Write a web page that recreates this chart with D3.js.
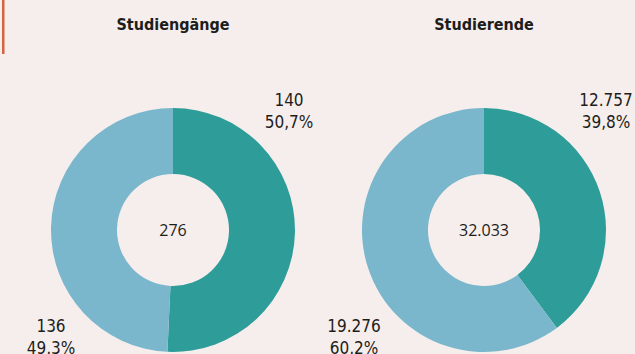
<!DOCTYPE html>
<html>
<head>
<meta charset="utf-8">
<script src="https://cdn.jsdelivr.net/npm/d3@7"></script>
<style>
  html, body { margin: 0; padding: 0; background: #f6eeec; }
  svg { display: block; }
</style>
</head>
<body>
<svg id="chart" width="635" height="354"></svg>
<script>
// Studiengänge und Studierende, Anteile je Gruppe
const titles = ["Studiengänge", "Studierende"];
const totals = ["276", "32.033"];
const groupA = [140, 12757];          // dunkle Segmente
const groupB = [136, 19276];          // helle Segmente
const labelsA = [["140", "50,7%"], ["12.757", "39,8%"]];
const labelsB = [["136", "49,3%"], ["19.276", "60,2%"]];

const W = 635, H = 354;
const svg = d3.select("#chart");
const colors = ["#2e9d99", "#7ab7cc"];
const narrow = "'Liberation Sans Narrow', 'DejaVu Sans Condensed', sans-serif";

// Akzentlinie links oben
svg.append("rect").attr("x", 2).attr("y", 0).attr("width", 2.5).attr("height", 54)
  .attr("fill", "#d4653f");

const cx = d3.scaleOrdinal().domain([0, 1]).range([173, 484]);
const cy = 230, rOuter = 122, rInner = 56;

const pie = d3.pie().sort(null).value(d => d);
const arc = d3.arc().innerRadius(rInner).outerRadius(rOuter);

// Positionen der Beschriftungen relativ zum Kreismittelpunkt
const labelPosA = [[116, 106], [122, 106]];
const labelPosB = [[-122, 332], [-130, 332]];

titles.forEach((t, i) => {
  const g = svg.append("g").attr("transform", `translate(${cx(i)},${cy})`);
  const arcs = pie([groupA[i], groupB[i]]);
  g.selectAll("path").data(arcs).join("path")
    .attr("d", arc)
    .attr("fill", (d, j) => colors[j]);

  g.append("text").attr("x", 0).attr("y", 6)
    .attr("text-anchor", "middle")
    .attr("font-family", "'Open Sans', sans-serif")
    .attr("font-size", 16).attr("fill", "#1d1d1b")
    .text(totals[i]);

  svg.append("text")
    .attr("x", cx(i)).attr("y", 30)
    .attr("text-anchor", "middle")
    .attr("font-family", narrow).attr("font-weight", "bold")
    .attr("font-size", 16).attr("fill", "#1d1d1b")
    .text(t);

  [[labelsA[i], labelPosA[i]], [labelsB[i], labelPosB[i]]].forEach(([lines, pos]) => {
    const tx = svg.append("text")
      .attr("text-anchor", "middle")
      .attr("font-family", narrow)
      .attr("font-size", 17).attr("fill", "#1d1d1b");
    lines.forEach((ln, k) => {
      tx.append("tspan").attr("x", cx(i) + pos[0]).attr("y", pos[1] + k * 22).text(ln);
    });
  });
});
</script>
</body>
</html>
